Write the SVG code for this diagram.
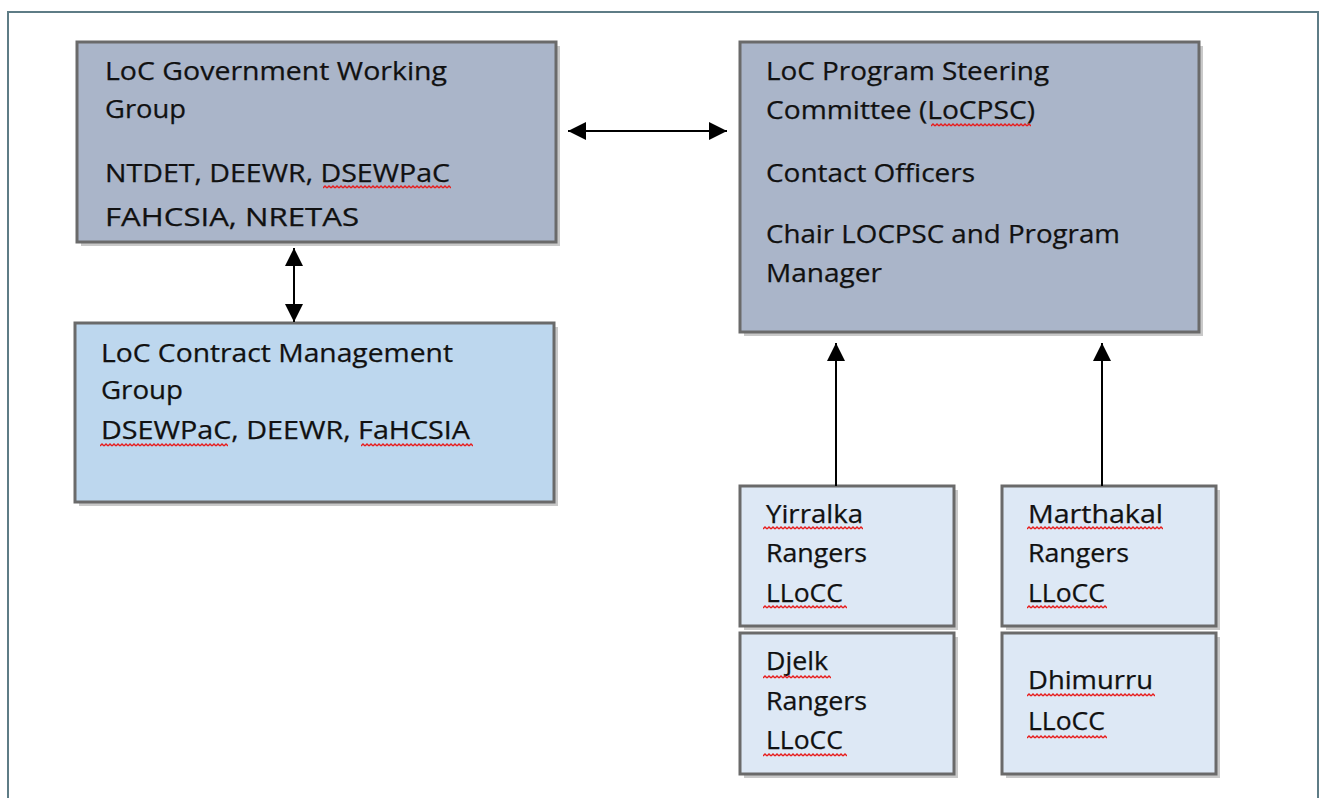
<svg xmlns="http://www.w3.org/2000/svg" width="1320" height="798" viewBox="0 0 1320 798">
<style>
.box{stroke:#6a6a6a;stroke-width:3}
.shadow{fill:#c9c9c9}
.dark{fill:#aab5c9}
.mid{fill:#bdd7ee}
.light{fill:#dde8f5}
.t{font-family:"Open Sans","Liberation Sans",sans-serif;font-size:25px;fill:#111;stroke:#111;stroke-width:0.25}
.conn{stroke:#000;stroke-width:2;fill:none}
</style>
<defs>
<marker id="ah" viewBox="0 0 18 18" refX="18" refY="9" markerWidth="18" markerHeight="18" markerUnits="userSpaceOnUse" orient="auto-start-reverse">
<path d="M0,0 L18,9 L0,18 Z" fill="#000"/>
</marker>
<pattern id="squig" width="4" height="4" patternUnits="userSpaceOnUse">
<path d="M0,3 L2,1 L4,3" fill="none" stroke="#e81c1c" stroke-width="1.4"/>
</pattern>
</defs>
<rect x="8" y="12" width="1310" height="800" fill="#fff" stroke="#5e7c86" stroke-width="2"/>

<g id="gov-working-group">
<rect class="shadow" x="81" y="46" width="479" height="200"/>
<rect class="box dark" x="77" y="42" width="479" height="200"/>
<text class="t" x="105" y="80" textLength="342" lengthAdjust="spacingAndGlyphs">LoC Government Working</text>
<text class="t" x="105" y="118" textLength="81" lengthAdjust="spacingAndGlyphs">Group</text>
<text class="t" x="105" y="182" textLength="345" lengthAdjust="spacingAndGlyphs">NTDET, DEEWR, DSEWPaC</text>
<text class="t" x="105" y="226" textLength="254" lengthAdjust="spacingAndGlyphs">FAHCSIA, NRETAS</text>
<g transform="translate(323,185)"><rect width="128" height="4" fill="url(#squig)"/></g>
</g>

<g id="steering-committee">
<rect class="shadow" x="744" y="46" width="459" height="290"/>
<rect class="box dark" x="740" y="42" width="459" height="290"/>
<text class="t" x="766" y="80" textLength="283" lengthAdjust="spacingAndGlyphs">LoC Program Steering</text>
<text class="t" x="766" y="119" textLength="269" lengthAdjust="spacingAndGlyphs">Committee (LoCPSC)</text>
<text class="t" x="766" y="182" textLength="209" lengthAdjust="spacingAndGlyphs">Contact Officers</text>
<text class="t" x="766" y="243" textLength="354" lengthAdjust="spacingAndGlyphs">Chair LOCPSC and Program</text>
<text class="t" x="766" y="282" textLength="116" lengthAdjust="spacingAndGlyphs">Manager</text>
<g transform="translate(931,123)"><rect width="100" height="4" fill="url(#squig)"/></g>
</g>

<g id="contract-management-group">
<rect class="shadow" x="79" y="327" width="479" height="179"/>
<rect class="box mid" x="75" y="323" width="479" height="179"/>
<text class="t" x="101" y="362" textLength="352" lengthAdjust="spacingAndGlyphs">LoC Contract Management</text>
<text class="t" x="101" y="399" textLength="82" lengthAdjust="spacingAndGlyphs">Group</text>
<text class="t" x="101" y="439" textLength="369" lengthAdjust="spacingAndGlyphs">DSEWPaC, DEEWR, FaHCSIA</text>
<g transform="translate(100,443)"><rect width="128" height="4" fill="url(#squig)"/></g>
<g transform="translate(361,443)"><rect width="112" height="4" fill="url(#squig)"/></g>
</g>

<g id="yirralka">
<rect class="shadow" x="744" y="490" width="214" height="140"/>
<rect class="box light" x="740" y="486" width="214" height="140"/>
<text class="t" x="766" y="523" textLength="97" lengthAdjust="spacingAndGlyphs">Yirralka</text>
<text class="t" x="766" y="562" textLength="101" lengthAdjust="spacingAndGlyphs">Rangers</text>
<text class="t" x="766" y="602" textLength="77" lengthAdjust="spacingAndGlyphs">LLoCC</text>
<g transform="translate(763,526)"><rect width="100" height="4" fill="url(#squig)"/></g>
<g transform="translate(763,605)"><rect width="84" height="4" fill="url(#squig)"/></g>
</g>

<g id="djelk">
<rect class="shadow" x="744" y="637" width="214" height="141"/>
<rect class="box light" x="740" y="633" width="214" height="141"/>
<text class="t" x="766" y="670" textLength="62" lengthAdjust="spacingAndGlyphs">Djelk</text>
<text class="t" x="766" y="710" textLength="101" lengthAdjust="spacingAndGlyphs">Rangers</text>
<text class="t" x="766" y="749" textLength="77" lengthAdjust="spacingAndGlyphs">LLoCC</text>
<g transform="translate(763,675)"><rect width="68" height="4" fill="url(#squig)"/></g>
<g transform="translate(763,753)"><rect width="84" height="4" fill="url(#squig)"/></g>
</g>

<g id="marthakal">
<rect class="shadow" x="1006" y="490" width="214" height="140"/>
<rect class="box light" x="1002" y="486" width="214" height="140"/>
<text class="t" x="1028" y="523" textLength="135" lengthAdjust="spacingAndGlyphs">Marthakal</text>
<text class="t" x="1028" y="562" textLength="101" lengthAdjust="spacingAndGlyphs">Rangers</text>
<text class="t" x="1028" y="602" textLength="77" lengthAdjust="spacingAndGlyphs">LLoCC</text>
<g transform="translate(1027,526)"><rect width="136" height="4" fill="url(#squig)"/></g>
<g transform="translate(1027,605)"><rect width="80" height="4" fill="url(#squig)"/></g>
</g>

<g id="dhimurru">
<rect class="shadow" x="1006" y="637" width="214" height="141"/>
<rect class="box light" x="1002" y="633" width="214" height="141"/>
<text class="t" x="1028" y="689" textLength="125" lengthAdjust="spacingAndGlyphs">Dhimurru</text>
<text class="t" x="1028" y="730" textLength="77" lengthAdjust="spacingAndGlyphs">LLoCC</text>
<g transform="translate(1027,693)"><rect width="128" height="4" fill="url(#squig)"/></g>
<g transform="translate(1027,735)"><rect width="80" height="4" fill="url(#squig)"/></g>
</g>

<g id="connectors">
<line class="conn" x1="568" y1="131" x2="727" y2="131" marker-start="url(#ah)" marker-end="url(#ah)"/>
<line class="conn" x1="294" y1="248" x2="294" y2="322" marker-start="url(#ah)" marker-end="url(#ah)"/>
<line class="conn" x1="836" y1="486" x2="836" y2="343" marker-end="url(#ah)"/>
<line class="conn" x1="1102" y1="486" x2="1102" y2="343" marker-end="url(#ah)"/>
</g>
</svg>
